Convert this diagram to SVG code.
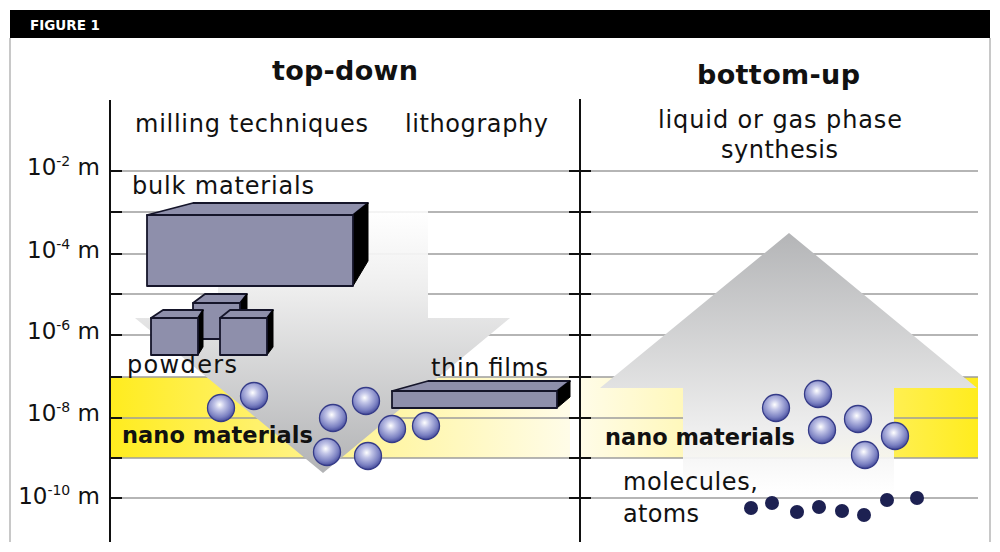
<svg xmlns="http://www.w3.org/2000/svg" width="1000" height="552" viewBox="0 0 1000 552">
<defs>
<linearGradient id="bandL" gradientUnits="userSpaceOnUse" x1="110" y1="0" x2="570" y2="0">
<stop offset="0" stop-color="#ffec1e"/><stop offset="0.45" stop-color="#fff38a"/><stop offset="1" stop-color="#fffce8"/>
</linearGradient>
<linearGradient id="bandR" gradientUnits="userSpaceOnUse" x1="580" y1="0" x2="978" y2="0">
<stop offset="0" stop-color="#fffce8"/><stop offset="0.55" stop-color="#fff38a"/><stop offset="1" stop-color="#ffec1e"/>
</linearGradient>
<linearGradient id="arrDown" gradientUnits="userSpaceOnUse" x1="0" y1="210" x2="0" y2="473">
<stop offset="0" stop-color="#ffffff" stop-opacity="0.85"/><stop offset="0.3" stop-color="#eeeeee"/><stop offset="1" stop-color="#b2b3b5"/>
</linearGradient>
<linearGradient id="arrUp" gradientUnits="userSpaceOnUse" x1="0" y1="233" x2="0" y2="494">
<stop offset="0" stop-color="#b4b5b7"/><stop offset="0.75" stop-color="#eeeeee"/><stop offset="1" stop-color="#ffffff" stop-opacity="0.85"/>
</linearGradient>
<radialGradient id="sph" cx="0.45" cy="0.38" r="0.62">
<stop offset="0" stop-color="#ffffff"/><stop offset="0.3" stop-color="#c3c6e8"/><stop offset="0.75" stop-color="#7b81c2"/><stop offset="1" stop-color="#474d9c"/>
</radialGradient>
<style>
.grid{stroke:#9c9c9c;stroke-width:1.6}
.tick{stroke:#111;stroke-width:2}
.axis{stroke:#111;stroke-width:2}
.frame{stroke:#c8c8c8;stroke-width:2}
.face{fill:#8e8fab;stroke:#15152a;stroke-width:1.8;stroke-linejoin:round}
.side{fill:#000;stroke:#000;stroke-width:1}
.sphere{fill:url(#sph);stroke:#353b88;stroke-width:1.3}
.dot{fill:#1d2152}
.lbl{font-family:"DejaVu Sans",sans-serif;font-size:24px;fill:#111}
.bold{font-family:"DejaVu Sans",sans-serif;font-weight:bold;fill:#111}
.scale{font-family:"DejaVu Sans",sans-serif;font-size:23px;fill:#111}
</style>
</defs>
<rect x="0" y="0" width="1000" height="552" fill="#ffffff"/>
<g id="frame">
<line class="frame" x1="10" y1="38" x2="10" y2="542"/>
<line class="frame" x1="990" y1="38" x2="990" y2="542"/>
</g>
<g id="header">
<rect x="10" y="10" width="980" height="28" fill="#000"/>
<text x="30" y="30" font-family="DejaVu Sans,sans-serif" font-weight="bold" font-size="13.5" fill="#fff" textLength="70">FIGURE 1</text>
</g>
<g id="nano-band">
<rect x="110" y="377" width="460" height="81" fill="url(#bandL)"/>
<rect x="580" y="377" width="398" height="81" fill="url(#bandR)"/>
</g>
<g id="grid">
<line class="grid" x1="110" y1="171" x2="978" y2="171"/>
<line class="grid" x1="110" y1="212" x2="978" y2="212"/>
<line class="grid" x1="110" y1="254" x2="978" y2="254"/>
<line class="grid" x1="110" y1="294" x2="978" y2="294"/>
<line class="grid" x1="110" y1="335" x2="978" y2="335"/>
<line class="grid" x1="110" y1="377" x2="978" y2="377"/>
<line class="grid" x1="110" y1="418" x2="978" y2="418"/>
<line class="grid" x1="110" y1="458" x2="978" y2="458"/>
<line class="grid" x1="110" y1="498" x2="978" y2="498"/>
</g>
<g id="axes">
<line class="axis" x1="110" y1="100" x2="110" y2="542"/>
<line class="axis" x1="580" y1="99" x2="580" y2="542"/>
<path class="tick" d="M110 171h12M110 212h12M110 254h12M110 294h12M110 335h12M110 377h12M110 418h12M110 458h12M110 498h12"/>
<path class="tick" d="M569 171h22M569 212h22M569 254h22M569 294h22M569 335h22M569 377h22M569 418h22M569 458h22M569 498h22"/>
</g>
<g id="scale-labels">
<text class="scale" x="100" y="175" text-anchor="end">10<tspan font-size="14" dy="-9">-2</tspan><tspan dy="9"> m</tspan></text>
<text class="scale" x="100" y="258" text-anchor="end">10<tspan font-size="14" dy="-9">-4</tspan><tspan dy="9"> m</tspan></text>
<text class="scale" x="100" y="339" text-anchor="end">10<tspan font-size="14" dy="-9">-6</tspan><tspan dy="9"> m</tspan></text>
<text class="scale" x="100" y="421" text-anchor="end">10<tspan font-size="14" dy="-9">-8</tspan><tspan dy="9"> m</tspan></text>
<text class="scale" x="100" y="504" text-anchor="end">10<tspan font-size="14" dy="-9">-10</tspan><tspan dy="9"> m</tspan></text>
</g>
<g id="connectors">
<polygon id="arrow-top-down" points="218,210 428,210 428,318 510,318 323,473 135,318 218,318" fill="url(#arrDown)"/>
<polygon id="arrow-bottom-up" points="789,233 977,388 894,388 894,494 683,494 683,388 600,388" fill="url(#arrUp)"/>
</g>
<g id="titles">
<text class="bold" x="272" y="80" font-size="27" textLength="146">top-down</text>
<text class="bold" x="697" y="84" font-size="27" textLength="163">bottom-up</text>
<text class="lbl" x="135" y="132" textLength="233">milling techniques</text>
<text class="lbl" x="405" y="132" textLength="143">lithography</text>
<text class="lbl" x="658" y="128" textLength="244">liquid or gas phase</text>
<text class="lbl" x="721" y="158" textLength="117">synthesis</text>
</g>
<g id="bulk-materials">
<polygon class="face" points="147,215 193,203 368,203 353,215"/>
<polygon class="side" points="353,215 368,203 368,261 353,286"/>
<rect class="face" x="147" y="215" width="206" height="71"/>
<text class="lbl" x="132" y="194" textLength="182">bulk materials</text>
</g>
<g id="powders">
<polygon class="face" points="193,303 205,294 247,294 240,303"/>
<polygon class="side" points="240,303 247,294 247,331 240,339"/>
<rect class="face" x="193" y="303" width="47" height="36"/>
<polygon class="face" points="151,318 163,310 203,310 198,318"/>
<polygon class="side" points="198,318 203,310 203,347 198,355"/>
<rect class="face" x="151" y="318" width="47" height="37"/>
<polygon class="face" points="220,318 230,310 273,310 267,318"/>
<polygon class="side" points="267,318 273,310 273,347 267,355"/>
<rect class="face" x="220" y="318" width="47" height="37"/>
<text class="lbl" x="127" y="373" textLength="110">powders</text>
</g>
<g id="thin-films">
<polygon class="face" points="392,391 428,381 570,381 557,391"/>
<polygon class="side" points="557,391 570,381 570,397 557,408"/>
<rect class="face" x="392" y="391" width="165" height="17"/>
<text class="lbl" x="431" y="376" textLength="117">thin films</text>
</g>
<g id="nano-materials-top-down">
<circle class="sphere" cx="221" cy="408" r="13.5"/>
<circle class="sphere" cx="254" cy="396" r="13.5"/>
<circle class="sphere" cx="333" cy="418" r="13.5"/>
<circle class="sphere" cx="366" cy="401" r="13.5"/>
<circle class="sphere" cx="392" cy="429" r="13.5"/>
<circle class="sphere" cx="426" cy="426" r="13.5"/>
<circle class="sphere" cx="327" cy="452" r="13.5"/>
<circle class="sphere" cx="368" cy="456" r="13.5"/>
<text class="bold" x="122" y="443" font-size="22.5" textLength="191">nano materials</text>
</g>
<g id="nano-materials-bottom-up">
<circle class="sphere" cx="776" cy="408" r="13.5"/>
<circle class="sphere" cx="818" cy="394" r="13.5"/>
<circle class="sphere" cx="858" cy="419" r="13.5"/>
<circle class="sphere" cx="822" cy="430" r="13.5"/>
<circle class="sphere" cx="895" cy="436" r="13.5"/>
<circle class="sphere" cx="865" cy="455" r="13.5"/>
<text class="bold" x="605" y="445" font-size="22.5" textLength="190">nano materials</text>
</g>
<g id="molecules-atoms">
<circle class="dot" cx="751" cy="508" r="7"/>
<circle class="dot" cx="772" cy="503" r="7"/>
<circle class="dot" cx="797" cy="512" r="7"/>
<circle class="dot" cx="819" cy="507" r="7"/>
<circle class="dot" cx="842" cy="511" r="7"/>
<circle class="dot" cx="864" cy="515" r="7"/>
<circle class="dot" cx="887" cy="500" r="7"/>
<circle class="dot" cx="917" cy="498" r="7"/>
<text class="lbl" x="623" y="490" textLength="135">molecules,</text>
<text class="lbl" x="623" y="522" textLength="76">atoms</text>
</g>
</svg>
